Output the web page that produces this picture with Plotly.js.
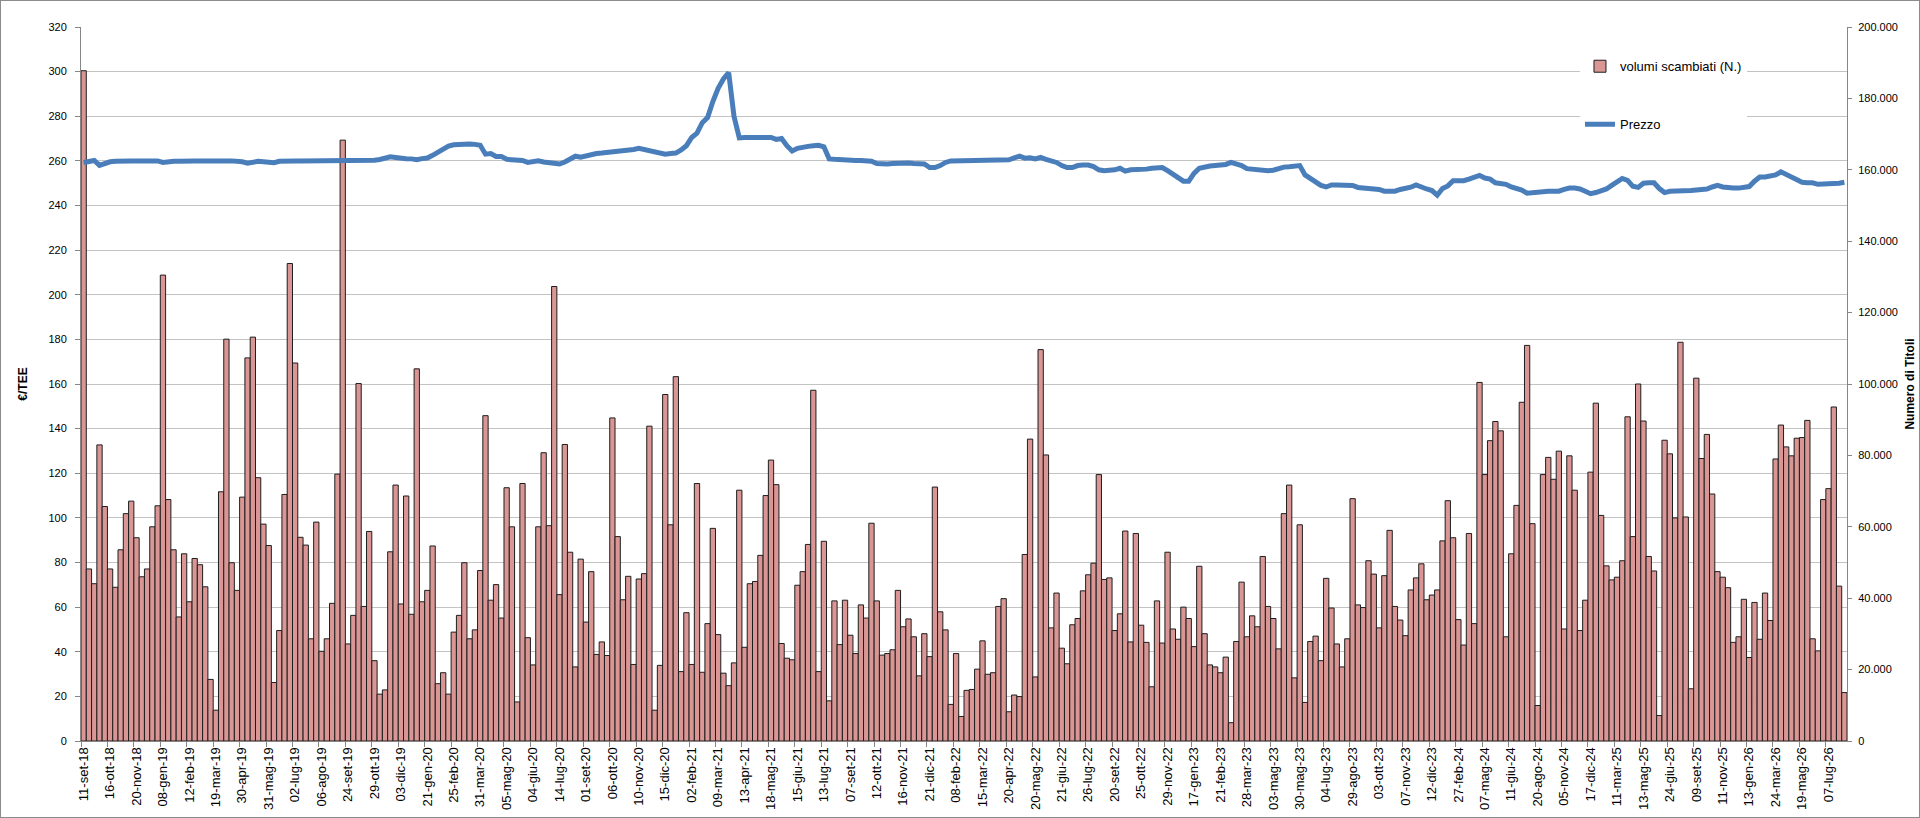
<!DOCTYPE html>
<html>
<head>
<meta charset="utf-8">
<script src="https://cdn.plot.ly/plotly-3.0.1.min.js"></script>
<style>
html,body{margin:0;padding:0;background:#fff;}
#chart{width:1918px;height:816px;border:1px solid #8c8c8c;}
</style>
</head>
<body>
<div id="chart"></div>
<script>
// Tick labels (one every 5 sessions)
const tickLabels = ["11-set-18","16-ott-18","20-nov-18","08-gen-19","12-feb-19","19-mar-19","30-apr-19","31-mag-19","02-lug-19","06-ago-19",
"24-set-19","29-ott-19","03-dic-19","21-gen-20","25-feb-20","31-mar-20","05-mag-20","04-giu-20","14-lug-20","01-set-20",
"06-ott-20","10-nov-20","15-dic-20","02-feb-21","09-mar-21","13-apr-21","18-mag-21","15-giu-21","13-lug-21","07-set-21",
"12-ott-21","16-nov-21","21-dic-21","08-feb-22","15-mar-22","20-apr-22","20-mag-22","21-giu-22","26-lug-22","20-set-22",
"25-ott-22","29-nov-22","17-gen-23","21-feb-23","28-mar-23","03-mag-23","30-mag-23","04-lug-23","29-ago-23","03-ott-23",
"07-nov-23","12-dic-23","27-feb-24","07-mag-24","11-giu-24","20-ago-24","05-nov-24","17-dic-24","11-mar-25","13-mag-25",
"24-giu-25","09-set-25","11-nov-25","13-gen-26","24-mar-26","19-mag-26","07-lug-26"];

// volumi scambiati (N.) per sessione
const volumi = [
187750,48190,44060,82940,65690,48190,43060,53560,63690,67190,
56940,46000,48190,60000,65880,130500,67630,53560,34750,52440,
39000,51130,49380,43190,17250,8630,69810,112560,49940,42190,
68310,107310,113130,73750,60750,54750,16380,30940,69060,133750,
105880,57060,54880,28630,61310,25130,28630,38560,74750,168310,
27190,35190,100130,37690,58690,22500,13130,14310,53000,71690,
38380,68630,35500,104250,39000,42190,54630,16060,19130,13130,
30500,35190,49940,28630,31130,47750,91130,39440,43810,34440,
70940,60000,10940,72130,28940,21310,60000,80750,60310,127310,
41000,83060,52880,20750,50940,33310,47440,24250,27750,23940,
90500,57250,39560,46130,21440,45380,46880,88190,8630,21190,
97060,60560,102060,19440,35940,21440,72130,19250,32880,59560,
29810,19000,15500,21880,70250,26250,44060,44690,52000,68750,
78690,71810,27310,23190,22750,43630,47440,55060,98250,19440,
55940,11250,39250,27000,39440,29630,24500,38130,34440,61000,
39250,24060,24500,25560,42190,32000,34190,29190,18250,30060,
23630,71130,36190,31130,10250,24500,6880,14190,14440,20130,
28060,18690,19130,37690,39880,8190,12880,12440,52250,84560,
17940,109630,80130,31690,41440,26000,21630,32560,34310,42060,
46560,49810,74630,45250,45690,30940,35630,58810,27750,58130,
32440,27630,15190,39250,27440,52880,31380,28500,37500,34310,
26440,48940,30060,21310,20750,19130,23500,5130,27880,44500,
29190,35060,32000,51690,37690,34310,25810,63690,71690,17690,
60560,10810,27880,29380,22500,45560,37250,27190,20750,28630,
67880,38130,37380,50500,46750,31690,46310,59000,37690,33880,
29500,42310,45690,49630,39560,40880,42310,56060,67310,56940,
34000,26880,58130,32880,100440,74630,84130,89500,86880,29190,
52440,66000,94880,110810,60880,9940,74630,79440,73310,81190,
31380,79880,70250,30940,39440,75310,94630,63190,49060,45130,
45880,50500,90810,57250,100000,89630,51690,47630,7130,84250,
80440,62500,111690,62750,14630,101630,79130,85880,69190,47440,
45880,42940,27630,29190,39690,23380,38810,28500,41440,33750,
79000,88500,82380,79880,84810,85000,89810,28630,25250,67630,
70690,93560,43380,13560];

// Prezzo (€/TEE) per sessione
const prezzo = [
259.3,260.0,260.2,258.0,258.8,259.6,259.8,259.7,259.8,260.0,
260.0,260.1,260.1,260.0,260.0,259.3,259.7,259.8,259.8,260.0,
260.0,260.0,260.0,260.1,260.2,260.0,260.1,260.0,260.0,260.0,
259.6,259.0,259.6,259.8,259.6,259.3,259.2,259.8,260.0,260.0,
260.0,260.0,260.0,260.2,260.0,260.0,260.0,260.0,260.0,260.0,
260.0,260.0,260.0,260.0,260.1,260.3,260.6,261.2,261.8,261.5,
261.1,261.0,260.9,260.5,261.0,261.3,262.5,264.0,265.2,266.6,
267.2,267.4,267.5,267.6,267.4,267.0,263.0,263.3,262.0,262.0,
260.7,260.5,260.2,260.2,259.3,259.8,260.0,259.5,259.3,258.8,
258.6,259.5,260.7,262.1,261.6,262.3,262.8,263.3,263.5,263.7,
264.0,264.0,264.4,264.6,265.1,265.6,265.1,264.2,263.7,263.3,
263.0,263.3,263.5,264.9,266.8,270.5,272.4,277.1,279.4,286.6,
292.5,296.7,299.5,280.0,270.3,270.5,270.5,270.5,270.6,270.6,
270.5,269.6,270.0,266.8,264.4,265.6,266.3,266.5,266.8,267.0,
266.3,260.9,260.7,260.5,260.2,260.2,260.2,260.2,260.0,259.8,
258.8,258.6,258.6,258.8,259.0,259.3,259.0,258.8,258.8,258.6,
257.0,257.0,257.9,259.3,260.0,260.0,260.0,260.0,260.2,260.2,
260.2,260.2,260.2,260.2,260.2,260.5,261.3,262.1,261.2,261.4,
260.9,261.6,260.7,260.0,259.3,257.9,257.0,257.0,257.9,258.1,
258.1,257.4,256.0,255.6,255.6,256.0,256.7,255.4,256.0,256.0,
256.0,256.3,256.7,257.0,257.0,255.6,254.2,252.3,250.9,250.9,
254.4,256.7,257.4,257.7,257.9,258.1,258.4,259.3,258.8,257.9,
256.5,256.3,256.0,255.6,255.6,255.8,256.7,257.2,257.4,257.7,
257.9,253.7,252.1,250.4,249.0,248.3,249.2,249.2,249.2,249.5,
249.0,248.1,247.8,247.8,247.6,247.2,246.4,246.2,246.4,247.2,
247.6,248.2,249.2,248.1,247.4,246.7,244.6,247.6,248.8,251.1,
251.1,251.1,251.8,252.8,253.5,252.3,251.8,250.2,249.7,249.5,
248.3,247.6,246.9,245.5,245.8,246.0,246.4,246.4,246.4,246.4,
247.2,247.8,247.8,247.4,246.4,245.3,245.8,246.4,247.4,249.0,
250.9,252.1,251.3,248.6,248.1,250.0,250.2,250.2,247.6,245.8,
246.4,246.4,246.2,246.2,246.7,246.9,246.9,247.4,248.3,249.0,
248.3,247.8,247.8,247.8,248.1,248.5,250.9,252.8,252.8,253.0,
253.7,255.1,253.9,253.0,251.6,250.4,250.2,250.2,249.5,249.5,
249.5,249.5,250.0,250.4];

const LABEL_EVERY = 5;
const idx = volumi.map((_, i) => i + 1);
const tickvals = tickLabels.map((_, i) => 1 + i * LABEL_EVERY);

const FONT = "Liberation Sans, Arial, sans-serif";

const traces = [
  {
    type: 'bar', name: 'volumi scambiati (N.)', x: idx, y: volumi,
    yaxis: 'y', legendgroup: 'a',
    marker: {color: '#D99694', line: {color: '#1e1e1e', width: 1}},
    hoverinfo: 'skip'
  },
  {
    type: 'scatter', mode: 'lines', name: 'Prezzo', x: idx, y: prezzo,
    yaxis: 'y2', legendgroup: 'b',
    line: {color: '#4A7EBB', width: 5},
    hoverinfo: 'skip'
  }
];

const layout = {
  width: 1918, height: 816,
  margin: {l: 80, r: 72, t: 26, b: 76},
  paper_bgcolor: '#ffffff', plot_bgcolor: '#ffffff',
  separators: ',.',
  font: {family: FONT, size: 11, color: '#000'},
  bargap: 0,
  showlegend: true,
  legend: {
    x: 0.8488, y: 0.966, xanchor: 'left', yanchor: 'top',
    bgcolor: '#ffffff', borderwidth: 0,
    traceorder: 'grouped', tracegroupgap: 38,
    entrywidth: 150, entrywidthmode: 'pixels',
    font: {family: FONT, size: 13, color: '#000'}
  },
  xaxis: {
    range: [0.5, volumi.length + 0.5],
    tickmode: 'array', tickvals: tickvals, ticktext: tickLabels,
    tickangle: -90, ticks: '', showgrid: false, zeroline: false,
    showline: true, linecolor: '#868686', linewidth: 1,
    tickfont: {family: FONT, size: 13, color: '#000'},
    minor: {tickmode: 'linear', tick0: 0.5, dtick: LABEL_EVERY, ticks: 'outside', ticklen: 5, tickcolor: '#868686', showgrid: false}
  },
  yaxis: {
    side: 'right', range: [0, 200000], dtick: 20000, tickformat: ',d',
    showgrid: false, zeroline: false, showline: true, linecolor: '#868686',
    ticks: 'outside', ticklen: 4, tickcolor: '#868686', ticklabelstandoff: 4,
    tickfont: {family: FONT, size: 11, color: '#000'},
    title: {text: 'Numero di Titoli', font: {family: FONT, size: 12, color: '#000', weight: 'bold'}, standoff: 8}
  },
  yaxis2: {
    overlaying: 'y', side: 'left', range: [0, 320], dtick: 20,
    showgrid: true, gridcolor: '#c3c3c3', gridwidth: 1,
    zeroline: false, showline: true, linecolor: '#868686',
    ticks: 'outside', ticklen: 5, tickcolor: '#868686', ticklabelstandoff: 6,
    tickfont: {family: FONT, size: 11, color: '#000'},
    title: {text: '€/TEE', font: {family: FONT, size: 12, color: '#000', weight: 'bold'}, standoff: 18}
  }
};

Plotly.newPlot('chart', traces, layout, {displayModeBar: false, staticPlot: true});
</script>
</body>
</html>
